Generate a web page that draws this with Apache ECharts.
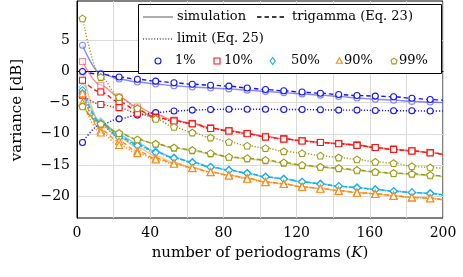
<!DOCTYPE html>
<html><head><meta charset="utf-8">
<script src="https://cdn.jsdelivr.net/npm/echarts@6/dist/echarts.min.js"></script>
<style>html,body{margin:0;padding:0;background:#fff}#c{width:463px;height:277px}</style>
</head><body><div id="c"></div>
<script>
// number of periodograms K (marker positions, plus end of range)
const K = [3,13,23,33,43,53,63,73,83,93,103,113,123,133,143,153,163,173,183,193,200];

// 1 %
const sim1 = [4.2,-0.3,-1.2,-1.7,-2.0,-2.3,-2.5,-2.65,-2.8,-3.0,-3.2,-3.4,-3.6,-3.8,-4.0,-4.25,-4.45,-4.6,-4.8,-4.9,-5.0];
const tri1 = [0.0,-0.45,-0.9,-1.25,-1.55,-1.8,-2.05,-2.2,-2.35,-2.65,-2.9,-3.1,-3.3,-3.5,-3.7,-3.85,-3.95,-4.05,-4.3,-4.5,-4.6];
const lim1 = [-11.4,-8.5,-7.6,-7.0,-6.6,-6.35,-6.2,-6.1,-6.05,-6.05,-6.05,-6.1,-6.1,-6.15,-6.2,-6.2,-6.25,-6.3,-6.3,-6.35,-6.35];
// 10 %
const sim10 = [1.6,-2.2,-4.1,-5.7,-6.9,-7.8,-8.3,-9.0,-9.5,-9.9,-10.4,-10.8,-11.1,-11.35,-11.55,-11.8,-12.2,-12.5,-12.7,-13.0,-13.3];
const tri10 = [-1.4,-3.3,-4.9,-6.2,-7.3,-7.9,-8.35,-9.1,-9.5,-9.95,-10.5,-10.8,-11.1,-11.4,-11.55,-11.8,-12.2,-12.5,-12.75,-13.0,-13.3];
const lim10 = [-3.8,-5.3,-5.8,-6.7,-7.4,-7.95,-8.4,-9.15,-9.55,-10.0,-10.5,-10.85,-11.15,-11.4,-11.6,-11.85,-12.2,-12.5,-12.75,-13.05,-13.3];
// 50 %
const sim50 = [-2.5,-8.0,-10.2,-11.5,-12.8,-13.8,-14.5,-15.3,-15.8,-16.3,-16.9,-17.2,-17.7,-18.0,-18.4,-18.6,-18.9,-19.2,-19.4,-19.5,-19.8];
const tri50 = [-3.0,-8.3,-10.4,-11.7,-12.9,-13.85,-14.55,-15.3,-15.8,-16.3,-16.9,-17.2,-17.7,-18.0,-18.4,-18.6,-18.9,-19.2,-19.4,-19.55,-19.8];
const lim50 = [-3.5,-8.6,-10.6,-11.9,-13.0,-13.9,-14.6,-15.35,-15.85,-16.35,-16.9,-17.25,-17.7,-18.05,-18.4,-18.65,-18.95,-19.2,-19.4,-19.6,-19.85];
// 90 %
const sim90 = [0.0,-8.5,-10.6,-12.2,-13.5,-14.6,-15.4,-16.1,-16.6,-17.1,-17.7,-18.0,-18.5,-18.7,-19.1,-19.4,-19.6,-19.9,-20.2,-20.3,-20.6];
const tri90 = [-3.5,-9.4,-11.2,-12.8,-13.9,-14.7,-15.45,-16.1,-16.6,-17.1,-17.7,-18.0,-18.5,-18.75,-19.1,-19.4,-19.6,-19.9,-20.2,-20.3,-20.6];
const lim90 = [-5.0,-9.8,-11.8,-13.1,-14.1,-14.8,-15.5,-16.15,-16.7,-17.2,-17.75,-18.05,-18.5,-18.8,-19.15,-19.45,-19.65,-19.95,-20.2,-20.35,-20.6];
// 99 %
const sim99 = [-5.4,-8.3,-9.8,-10.9,-11.6,-12.3,-12.7,-13.2,-13.75,-14.0,-14.3,-14.7,-15.05,-15.35,-15.6,-15.9,-16.15,-16.35,-16.5,-16.7,-16.9];
const tri99 = [-5.6,-8.4,-9.9,-10.9,-11.6,-12.2,-12.6,-13.1,-13.7,-13.9,-14.2,-14.6,-15.0,-15.3,-15.5,-15.8,-16.1,-16.3,-16.4,-16.6,-16.8];
const lim99 = [8.5,-0.9,-4.1,-5.9,-7.6,-8.9,-9.8,-10.6,-11.3,-11.9,-12.3,-12.8,-13.1,-13.5,-13.8,-14.1,-14.5,-14.7,-15.2,-15.4,-15.5];

const xTicks = [0,40,80,120,160,200];
const yTicks = [-20,-15,-10,-5,0,5];

const FONT = 'DejaVu Serif';
const C = {blue:'#1414ff', red:'#ff1414', cyan:'#14b0f0', orange:'#ff8a14', olive:'#9a9a14'};
const PENT = 'path://M0,-1L0.951,-0.309L0.588,0.809L-0.588,0.809L-0.951,-0.309Z';

function mk(name, vals, color, kind, symbol, size) {
  const sim = kind === 'sim';
  const type = kind === 'tri' ? [4.5,3] : (kind === 'lim' ? [1.2,1.8] : 'solid');
  const data = vals.map((v,i) => i === vals.length-1 ? {value:[K[i],v], symbol:'none'} : [K[i],v]);
  return {
    name, type:'line', data, smooth:0.35, smoothMonotone:'x',
    symbol, symbolSize:size, symbolKeepAspect:true,
    lineStyle:{color, width:1.4, type, opacity: sim?0.5:1},
    itemStyle:{color:'#fff', borderColor:color, borderWidth:1.1, opacity: sim?0.5:1},
    emphasis:{disabled:true}, z: sim?2:3, animation:false
  };
}
const groups = [
  [sim1,tri1,lim1,C.blue,'circle',6],
  [sim10,tri10,lim10,C.red,'rect',6],
  [sim50,tri50,lim50,C.cyan,'diamond',7],
  [sim90,tri90,lim90,C.orange,'triangle',7],
  [sim99,tri99,lim99,C.olive,PENT,7]
];
const series = [];
groups.forEach(g => {
  series.push(mk('sim', g[0], g[3], 'sim', g[4], g[5]));
  series.push(mk('tri', g[1], g[3], 'tri', g[4], g[5]));
  series.push(mk('lim', g[2], g[3], 'lim', g[4], g[5]));
});

// legend graphics
const L = [];
const txt = (x,y,s) => ({type:'text', x, y, style:{text:s, font:'13px '+FONT, fill:'#000', textVerticalAlign:'middle'}, z:101});
L.push({type:'rect', shape:{x:138.5,y:4.5,width:303,height:69}, style:{fill:'#fff', stroke:'#000', lineWidth:1}, z:100});
L.push({type:'line', shape:{x1:143,y1:17,x2:173,y2:17}, style:{stroke:'#777', lineWidth:1.2}, z:101});
L.push(txt(177,17,'simulation'));
L.push({type:'line', shape:{x1:257,y1:17,x2:286,y2:17}, style:{stroke:'#000', lineWidth:1.4, lineDash:[4.5,3]}, z:101});
L.push(txt(292,17,'trigamma (Eq. 23)'));
L.push({type:'line', shape:{x1:143,y1:39,x2:173,y2:39}, style:{stroke:'#000', lineWidth:1.2, lineDash:[1,1.8]}, z:101});
L.push(txt(177,39,'limit (Eq. 25)'));
const ry = 61;
L.push({type:'circle', shape:{cx:158,cy:ry,r:3}, style:{fill:'#fff', stroke:C.blue, lineWidth:1.1}, z:101});
L.push(txt(175,ry,'1%'));
L.push({type:'rect', shape:{x:214,y:ry-3,width:6,height:6}, style:{fill:'#fff', stroke:C.red, lineWidth:1.1}, z:101});
L.push(txt(224,ry,'10%'));
L.push({type:'polygon', shape:{points:[[272.7,ry-3.5],[275.2,ry],[272.7,ry+3.5],[270.2,ry]]}, style:{fill:'#fff', stroke:C.cyan, lineWidth:1.1}, z:101});
L.push(txt(291,ry,'50%'));
L.push({type:'polygon', shape:{points:[[339.3,ry-3.2],[342.3,ry+2.3],[336.3,ry+2.3]]}, style:{fill:'#fff', stroke:C.orange, lineWidth:1.1}, z:101});
L.push(txt(344,ry,'90%'));
const pc = [394, ry+0.3];
L.push({type:'polygon', shape:{points:[0,1,2,3,4].map(i=>{const a=-Math.PI/2+i*2*Math.PI/5;return [pc[0]+3.2*Math.cos(a), pc[1]+3.2*Math.sin(a)];})}, style:{fill:'#fff', stroke:C.olive, lineWidth:1.1}, z:101});
L.push(txt(399,ry,'99%'));
// y axis title
L.push({type:'text', x:17, y:110, rotation:Math.PI/2, style:{text:'variance [dB]', font:'15px '+FONT, fill:'#000', textAlign:'center', textVerticalAlign:'middle'}, z:101});

const chart = echarts.init(document.getElementById('c'), null, {renderer:'canvas'});
chart.setOption({
  animation:false,
  grid:{left:77, right:20, top:1, bottom:59, show:true, borderColor:'#000', borderWidth:1, backgroundColor:'transparent'},
  xAxis:{
    type:'value', min:0, max:200, interval:20,
    name:'{n|number of periodograms (}{i|K}{n|)}', nameLocation:'middle', nameGap:28,
    nameTextStyle:{fontFamily:FONT, fontSize:15, color:'#000',
      rich:{n:{fontFamily:FONT, fontSize:15, color:'#000'}, i:{fontFamily:FONT, fontSize:15, fontStyle:'italic', color:'#000'}}},
    axisLine:{show:true, lineStyle:{color:'#000', width:1}},
    axisTick:{show:false},
    axisLabel:{fontFamily:FONT, fontSize:14, color:'#000', margin:8,
      formatter:v => xTicks.includes(v) ? String(v) : ''},
    splitLine:{show:true, lineStyle:{color:'#dadada', width:1}}
  },
  yAxis:{
    type:'value', min:-23.5, max:11.3,
    axisLine:{show:true, lineStyle:{color:'#000', width:1}},
    axisTick:{show:false, customValues:yTicks},
    axisLabel:{fontFamily:FONT, fontSize:14, color:'#000', margin:7, customValues:yTicks,
      formatter:v => String(v).replace('-', '\u2212')},
    splitLine:{show:true, lineStyle:{color:'#dadada', width:1}}
  },
  graphic:L,
  series
});
</script></body></html>
